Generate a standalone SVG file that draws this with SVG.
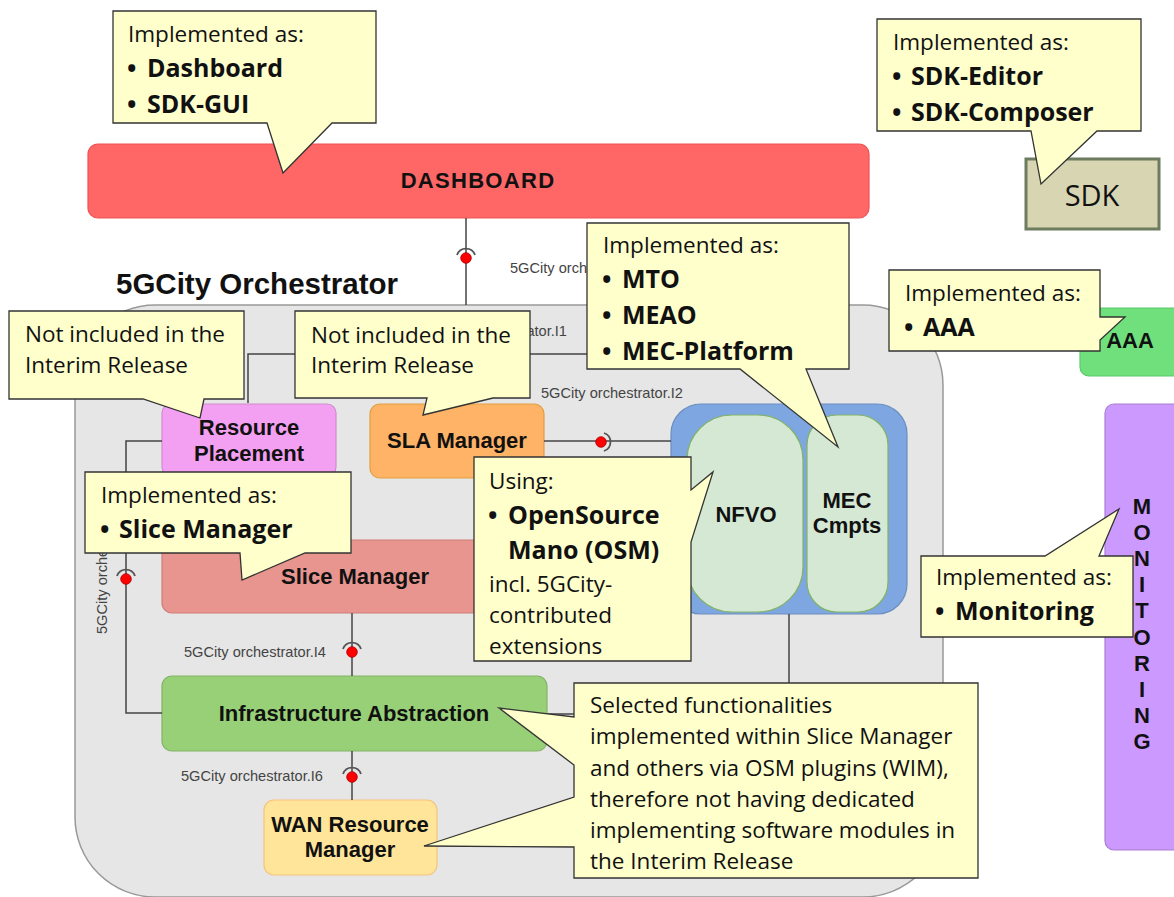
<svg xmlns="http://www.w3.org/2000/svg" width="1174" height="897" viewBox="0 0 1174 897">
<style>
.co{fill:#ffffcc;stroke:#333;stroke-width:1.3}
.ct{font-family:'Open Sans','Liberation Sans',sans-serif;font-size:22.5px;fill:#111}
.bu{font-family:'Open Sans','Liberation Sans',sans-serif;font-size:25px;font-weight:bold;fill:#111}
.cb{font-family:'Open Sans','Liberation Sans',sans-serif;font-size:25px;font-weight:bold;fill:#111}
.nl{font-family:'Liberation Sans',Arial,sans-serif;font-size:22px;font-weight:bold;fill:#111;text-anchor:middle}
.il{font-family:'Liberation Sans',Arial,sans-serif;font-size:14.6px;fill:#444}
.cn{fill:none;stroke:#444;stroke-width:1.5}
.dot{fill:#ff0000;stroke:#a00;stroke-width:0.8}
.arc{fill:none;stroke:#555;stroke-width:1.8}
</style>

<!-- orchestrator frame -->
<g id="orchestrator">
<rect x="75" y="305" width="868" height="592" rx="80" ry="80" fill="#e6e6e6" stroke="#999" stroke-width="1.5"/>
<text x="116" y="294" font-family="'Liberation Sans',Arial,sans-serif" font-size="29.5" font-weight="bold" fill="#111">5GCity Orchestrator</text>
</g>

<g id="dashboard">
<rect x="88" y="144" width="781" height="74" rx="10" fill="#ff6666" stroke="#ef5252" stroke-width="1.2"/>
<text class="nl" x="478" y="188" font-size="20" letter-spacing="1.3">DASHBOARD</text>
</g>

<g id="sdk">
<rect x="1026" y="159" width="133" height="70" fill="#d8d5b2" stroke="#6d7b5f" stroke-width="3"/>
<text x="1092" y="206" font-family="'Open Sans','Liberation Sans',sans-serif" font-size="29" fill="#111" text-anchor="middle">SDK</text>
</g>

<g id="aaa">
<rect x="1080" y="308" width="104" height="68" rx="9" fill="#70e07c" stroke="#5fc86a" stroke-width="1.2"/>
<text class="nl" x="1130" y="348" font-size="19">AAA</text>
</g>

<g id="monitoring">
<rect x="1105" y="404" width="80" height="446" rx="9" fill="#cc99ff" stroke="#a97fd6" stroke-width="1.2"/>
<g class="nl" font-size="18.5">
<text x="1142" y="514">M</text><text x="1142" y="540">O</text><text x="1142" y="566">N</text><text x="1142" y="592">I</text><text x="1142" y="618">T</text><text x="1142" y="645">O</text><text x="1142" y="671">R</text><text x="1142" y="697">I</text><text x="1142" y="723">N</text><text x="1142" y="749">G</text>
</g>
</g>

<g id="resource-placement">
<rect x="162" y="404" width="174" height="72" rx="9" fill="#f4a0f2" stroke="#d08cce" stroke-width="1.2"/>
<text class="nl" x="249" y="435">Resource</text>
<text class="nl" x="249" y="461">Placement</text>
</g>

<g id="sla-manager">
<rect x="370" y="404" width="174" height="74" rx="10" fill="#ffb366" stroke="#e0a040" stroke-width="1.2"/>
<text class="nl" x="457" y="448">SLA Manager</text>
</g>

<g id="slice-manager">
<rect x="162" y="540" width="386" height="73" rx="10" fill="#e8958f" stroke="#cf7c79" stroke-width="1.2"/>
<text class="nl" x="355" y="584">Slice Manager</text>
</g>

<g id="infrastructure-abstraction">
<rect x="162" y="676" width="385" height="75" rx="10" fill="#97d077" stroke="#82b366" stroke-width="1.2"/>
<text class="nl" x="354" y="721">Infrastructure Abstraction</text>
</g>

<g id="wan-resource-manager">
<rect x="264" y="800" width="173" height="75" rx="10" fill="#ffe599" stroke="#f7c27d" stroke-width="1.2"/>
<text class="nl" x="350" y="832">WAN Resource</text>
<text class="nl" x="350" y="857">Manager</text>
</g>

<g id="nfv-mec">
<rect x="671" y="404" width="236" height="210" rx="30" fill="#7ea6e0" stroke="#6c8ebf" stroke-width="1.2"/>
<g id="nfvo">
<rect x="687" y="415" width="116" height="197" rx="45" fill="#d5e8d4" stroke="#82b366" stroke-width="1.2"/>
<text class="nl" x="746" y="522" font-size="22.5">NFVO</text>
</g>
<g id="mec-cmpts">
<rect x="807" y="415" width="81" height="197" rx="30" fill="#d5e8d4" stroke="#82b366" stroke-width="1.2"/>
<text class="nl" x="847" y="508" font-size="20.5">MEC</text>
<text class="nl" x="847" y="533" font-size="20.5">Cmpts</text>
</g>
</g>

<!-- connectors -->
<g id="connectors">
<path class="cn" d="M466,218 V305"/>
<path class="cn" d="M248,403 V354 H600"/>
<path class="cn" d="M544,441 H671"/>
<path class="cn" d="M162,441 H126 V713 H162"/>
<path class="cn" d="M352,613 V676"/>
<path class="cn" d="M352,751 V800"/>
<path class="cn" d="M789,614 V714 H547"/>
<path class="arc" d="M457,255 A9.5,9.5 0 0 1 475,255"/>
<circle class="dot" cx="466" cy="258" r="5.3"/>
<path class="arc" d="M604,433 A9.5,9.5 0 0 1 604,451"/>
<circle class="dot" cx="601" cy="442" r="5.3"/>
<path class="arc" d="M117,576 A9.5,9.5 0 0 1 135,576"/>
<circle class="dot" cx="126" cy="579" r="5.3"/>
<path class="arc" d="M343,649 A9.5,9.5 0 0 1 361,649"/>
<circle class="dot" cx="352" cy="652" r="5.3"/>
<path class="arc" d="M343,774 A9.5,9.5 0 0 1 361,774"/>
<circle class="dot" cx="352" cy="777" r="5.3"/>
</g>

<g id="interface-labels">
<text class="il" x="510" y="273">5GCity orch</text>
<text class="il" x="567" y="336" text-anchor="end">ator.I1</text>
<text class="il" x="541" y="398">5GCity orchestrator.I2</text>
<text class="il" x="184" y="657">5GCity orchestrator.I4</text>
<text class="il" x="181" y="781">5GCity orchestrator.I6</text>
<text class="il" transform="translate(107,634) rotate(-90)">5GCity orche</text>
</g>

<!-- callouts -->
<g id="callout-dashboard">
<path class="co" d="M113,11 H376 V123 H332 L283,173 L267,123 H113 Z"/>
<text class="ct" x="128" y="42">Implemented as:</text>
<text class="bu" x="127" y="77">•</text><text class="cb" x="147" y="77">Dashboard</text>
<text class="bu" x="127" y="113">•</text><text class="cb" x="147" y="113">SDK-GUI</text>
</g>

<g id="callout-sdk">
<path class="co" d="M877,19 H1141 V131 H1097 L1041,184 L1031,131 H877 Z"/>
<text class="ct" x="893" y="50">Implemented as:</text>
<text class="bu" x="892" y="85">•</text><text class="cb" x="911" y="85">SDK-Editor</text>
<text class="bu" x="892" y="121">•</text><text class="cb" x="911" y="121">SDK-Composer</text>
</g>

<g id="callout-aaa">
<path class="co" d="M889,270 H1100 V317 L1125,317 L1100,340 V351 H889 Z"/>
<text class="ct" x="905" y="301">Implemented as:</text>
<text class="bu" x="904" y="336">•</text><text class="cb" x="923" y="336">AAA</text>
</g>

<g id="callout-monitoring">
<path class="co" d="M921,556 H1045 L1119,509 L1099,556 H1133 V637 H921 Z"/>
<text class="ct" x="936" y="585">Implemented as:</text>
<text class="bu" x="935" y="620">•</text><text class="cb" x="955" y="620">Monitoring</text>
</g>

<g id="callout-resource-placement">
<path class="co" d="M9,311 H244 V399 H204 L200,418 L143,399 H9 Z"/>
<text class="ct" x="25" y="342">Not included in the</text>
<text class="ct" x="25" y="373">Interim Release</text>
</g>

<g id="callout-sla">
<path class="co" d="M295,311 H530 V398 H493 L423,415 L427,398 H295 Z"/>
<text class="ct" x="311" y="343">Not included in the</text>
<text class="ct" x="311" y="373">Interim Release</text>
</g>

<g id="callout-mec">
<path class="co" d="M587,223 H849 V369 H806 L838,447 L740,369 H587 Z"/>
<text class="ct" x="603" y="253">Implemented as:</text>
<text class="bu" x="602" y="288">•</text><text class="cb" x="622" y="288">MTO</text>
<text class="bu" x="602" y="324">•</text><text class="cb" x="622" y="324">MEAO</text>
<text class="bu" x="602" y="360">•</text><text class="cb" x="622" y="360">MEC-Platform</text>
</g>

<g id="callout-slice">
<path class="co" d="M85,472 H351 V553 H305 L242,580 L240,553 H85 Z"/>
<text class="ct" x="101" y="503">Implemented as:</text>
<text class="bu" x="100" y="538">•</text><text class="cb" x="119" y="538">Slice Manager</text>
</g>

<g id="callout-osm">
<path class="co" d="M474,457 H691 V490 L713,472 L691,542 V661 H474 Z"/>
<text class="ct" x="489" y="489">Using:</text>
<text class="bu" x="488" y="524">•</text><text class="cb" x="508" y="524">OpenSource</text>
<text class="cb" x="508" y="559">Mano (OSM)</text>
<text class="ct" x="489" y="592">incl. 5GCity-</text>
<text class="ct" x="489" y="623">contributed</text>
<text class="ct" x="489" y="654">extensions</text>
</g>

<g id="callout-wim">
<path class="co" d="M574,683 H978 V878 H574 V847 L424,846 L574,797 V765 L499,708 L574,717 Z"/>
<text class="ct" x="590" y="713">Selected functionalities</text>
<text class="ct" x="590" y="744">implemented within Slice Manager</text>
<text class="ct" x="590" y="776">and others via OSM plugins (WIM),</text>
<text class="ct" x="590" y="807">therefore not having dedicated</text>
<text class="ct" x="590" y="838">implementing software modules in</text>
<text class="ct" x="590" y="869">the Interim Release</text>
</g>
</svg>
